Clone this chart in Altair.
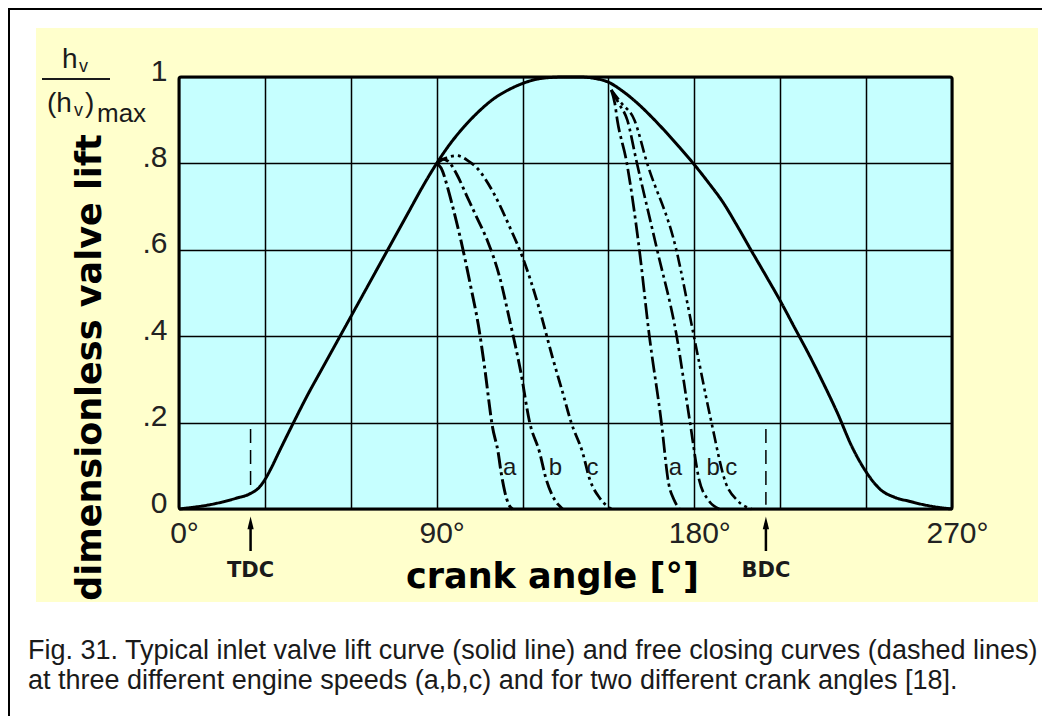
import altair as alt
import pandas as pd

# ---------------- data ----------------
main_angle = [0, 5, 10, 15, 20, 25, 28, 30, 32, 35, 40, 45, 50, 55, 60, 65, 70, 75, 80, 85,
              90, 95, 100, 105, 110, 115, 120, 125, 130, 135, 140, 145, 150, 155, 160, 165,
              170, 175, 180, 185, 190, 195, 200, 205, 210, 215, 220, 225, 230, 235, 240, 245,
              250, 255, 260, 265, 270]
main_lift = [0.0, 0.004, 0.009, 0.016, 0.025, 0.036, 0.05, 0.068, 0.092, 0.133, 0.2, 0.265,
             0.325, 0.385, 0.445, 0.505, 0.565, 0.625, 0.685, 0.745, 0.80, 0.848, 0.888, 0.922,
             0.95, 0.97, 0.985, 0.995, 0.999, 1.0, 1.0, 0.997, 0.988, 0.967, 0.94, 0.908, 0.873,
             0.836, 0.797, 0.755, 0.71, 0.655, 0.597, 0.54, 0.482, 0.42, 0.358, 0.292, 0.222,
             0.145, 0.086, 0.045, 0.027, 0.018, 0.01, 0.004, 0.0]

# free closing curves, first crank angle (branch at 90 deg)
l_a_angle = [90, 91.5, 94, 95.2, 98.7, 101.8, 104.6, 106.7, 109.5, 111.5, 112.5, 113.8, 115, 116.5]
l_a_lift = [0.80, 0.79, 0.74, 0.71, 0.615, 0.518, 0.424, 0.33, 0.19, 0.13, 0.085, 0.04, 0.013, 0.0]
l_b_angle = [90, 92, 94, 97, 100.5, 104, 107.8, 112, 115.5, 119.3, 122.5, 126, 128.2, 130.5, 132.5, 134]
l_b_lift = [0.80, 0.81, 0.805, 0.775, 0.725, 0.675, 0.62, 0.537, 0.437, 0.32, 0.2, 0.13, 0.07, 0.03, 0.01, 0.0]
l_c_angle = [90, 93, 97, 101, 104, 110, 115.5, 120, 126, 130.5, 134, 137, 141, 143.4, 147, 151]
l_c_lift = [0.80, 0.812, 0.818, 0.806, 0.79, 0.73, 0.653, 0.583, 0.46, 0.35, 0.27, 0.2, 0.13, 0.07, 0.025, 0.0]

# free closing curves, second crank angle (branch near 151 deg)
r_a_angle = [151, 152.2, 153.1, 156.3, 160.8, 164.2, 168.5, 171, 173, 174.8]
r_a_lift = [0.97, 0.94, 0.9, 0.805, 0.6, 0.405, 0.2, 0.06, 0.02, 0.0]
r_b_angle = [151, 153.5, 156.6, 159.8, 167, 173.7, 178.5, 181.7, 185, 188.7]
r_b_lift = [0.97, 0.94, 0.9, 0.805, 0.6, 0.405, 0.2, 0.067, 0.02, 0.0]
r_c_angle = [151, 154.5, 159.1, 163.3, 173.7, 179.7, 185.8, 191, 195, 200]
r_c_lift = [0.97, 0.94, 0.9, 0.805, 0.6, 0.405, 0.206, 0.06, 0.02, 0.0]

curve_labels = ["a", "b", "c", "a", "b", "c"]
curve_label_angle = [115.5, 131.5, 144.4, 173.4, 186.6, 192.9]
curve_label_lift = [0.095, 0.095, 0.095, 0.095, 0.095, 0.095]

dead_centre_names = ["TDC", "BDC"]
dead_centre_angle = [25, 205]
dead_centre_top = [0.185, 0.185]
dead_centre_bottom = [0.035, 0.01]

x_grid = [0, 30, 60, 90, 120, 150, 180, 210, 240, 270]
y_grid = [0, 0.2, 0.4, 0.6, 0.8, 1.0]

caption_1 = "Fig. 31. Typical inlet valve lift curve (solid line) and free closing curves (dashed lines)"
caption_2 = "at three different engine speeds (a,b,c) and for two different crank angles [18]."

# ---------------- tables ----------------
series_list = [
    ("main", main_angle, main_lift),
    ("la", l_a_angle, l_a_lift),
    ("lb", l_b_angle, l_b_lift),
    ("lc", l_c_angle, l_c_lift),
    ("ra", r_a_angle, r_a_lift),
    ("rb", r_b_angle, r_b_lift),
    ("rc", r_c_angle, r_c_lift),
]
rows = []
for name, xs, ys in series_list:
    for i, (a, h) in enumerate(zip(xs, ys)):
        rows.append({"series": name, "angle": a, "lift": h, "i": i})
curves = pd.DataFrame(rows)

labels_df = pd.DataFrame({"t": curve_labels, "angle": curve_label_angle, "lift": curve_label_lift})
dc_df = pd.DataFrame({"name": dead_centre_names, "angle": dead_centre_angle,
                      "top": dead_centre_top, "bottom": dead_centre_bottom})

W, H = 773, 432
YELLOW = "#FFFFCC"
CYAN = "#C6FFFF"
INK = "#1a1a1a"

xscale = alt.Scale(domain=[0, 270], nice=False, zero=False)
yscale = alt.Scale(domain=[0, 1], nice=False, zero=False)

one = alt.Data(values=[{}])


def txt(s, x, y, size, font="Liberation Sans", weight="normal", align="left",
        baseline="alphabetic", color=INK):
    return alt.Chart(one).mark_text(text=s, font=font, fontSize=size, fontWeight=weight,
                                    align=align, baseline=baseline, color=color).encode(
        x=alt.value(x), y=alt.value(y))


# page frame + yellow panel + cyan plot area (pixel layout, not data)
frame = alt.Chart(one).mark_rect(fill="white", stroke="black", strokeWidth=2).encode(
    x=alt.value(-170), x2=alt.value(1000), y=alt.value(-68), y2=alt.value(800))
panel = alt.Chart(one).mark_rect(fill=YELLOW).encode(
    x=alt.value(-143), x2=alt.value(859), y=alt.value(-49), y2=alt.value(525))
plotbg = alt.Chart(one).mark_rect(fill=CYAN, stroke="black", strokeWidth=3, cornerRadius=2).encode(
    x=alt.value(0), x2=alt.value(W), y=alt.value(0), y2=alt.value(H))

xaxis = alt.Axis(values=x_grid, grid=True, ticks=False, domain=False,
                 labelExpr="datum.value % 90 == 0 ? datum.value + '°' : ''",
                 labelFont="Liberation Sans", labelFontSize=30, labelColor="#222",
                 labelPadding=9, labelOffset=5, labelFlush=False, labelOverlap=False,
                 title="crank angle [°]", titleFont="DejaVu Sans", titleFontSize=35,
                 titleFontWeight="bold", titleColor="black", titleX=373, titleY=78,
                 titleAlign="center", titleBaseline="alphabetic", zindex=1)
yaxis = alt.Axis(values=y_grid, grid=True, ticks=False, domain=False,
                 labelExpr="datum.value == 0 ? '0' : (datum.value == 1 ? '1' : replace(format(datum.value, '.1f'), '0.', '.'))",
                 labelFont="Liberation Sans", labelFontSize=30, labelColor="#222",
                 labelPadding=12, labelOffset=-6, labelFlush=False, labelOverlap=False,
                 labelBaseline="middle",
                 title="dimensionless valve lift", titleFont="DejaVu Sans", titleFontSize=35,
                 titleFontWeight="bold", titleColor="black", titleX=-79, titleY=290,
                 titleAngle=270, titleAlign="center", titleBaseline="alphabetic", zindex=1)

dash_domain = ["main", "la", "lb", "lc", "ra", "rb", "rc"]
dash_range = [[1, 0], [16, 4, 3, 4], [14, 4, 3, 4], [12, 4, 3, 4, 3, 4],
              [16, 4, 3, 4], [14, 4, 3, 4], [12, 4, 3, 4, 3, 4]]
width_range = [3, 2.6, 2.6, 2.6, 2.6, 2.6, 2.6]

lines = alt.Chart(curves).mark_line(interpolate="monotone", color="black").encode(
    x=alt.X("angle:Q", scale=xscale, axis=xaxis),
    y=alt.Y("lift:Q", scale=yscale, axis=yaxis),
    detail="series:N",
    order="i:Q",
    strokeDash=alt.StrokeDash("series:N", scale=alt.Scale(domain=dash_domain, range=dash_range), legend=None),
    strokeWidth=alt.StrokeWidth("series:N", scale=alt.Scale(domain=dash_domain, range=width_range), legend=None),
)

curve_text = alt.Chart(labels_df).mark_text(font="Liberation Sans", fontSize=24, color=INK,
                                            baseline="middle", align="center").encode(
    x=alt.X("angle:Q", scale=xscale), y=alt.Y("lift:Q", scale=yscale), text="t:N")

dc_dash = alt.Chart(dc_df).mark_rule(color="black", strokeWidth=1.5, strokeDash=[14, 7]).encode(
    x=alt.X("angle:Q", scale=xscale), y=alt.Y("top:Q", scale=yscale), y2="bottom:Q")
dc_shaft = alt.Chart(dc_df).mark_rule(color="black", strokeWidth=2.5).encode(
    x=alt.X("angle:Q", scale=xscale), y=alt.value(446), y2=alt.value(474))
dc_head = alt.Chart(dc_df).mark_point(shape="M0,-1L0.42,0.7L-0.42,0.7Z", filled=True, size=225,
                                      color="black", opacity=1).encode(
    x=alt.X("angle:Q", scale=xscale), y=alt.value(447))
dc_text = alt.Chart(dc_df).mark_text(font="DejaVu Sans", fontWeight="bold", fontSize=21,
                                     color=INK, baseline="middle", align="center").encode(
    x=alt.X("angle:Q", scale=xscale), y=alt.value(494), text="name:N")

# ordinate symbol h_v / (h_v)_max  (page x/y minus plot origin 179/77)
frac = [
    txt("h", -117, -9, 28),
    txt("v", -100, -5, 18),
    alt.Chart(one).mark_rule(color=INK, strokeWidth=2.2).encode(
        x=alt.value(-137), x2=alt.value(-69), y=alt.value(2)),
    txt("(h", -132, 35, 28),
    txt("v", -105, 39, 18),
    txt(")", -94, 35, 28),
    txt("max", -82, 45, 26),
]

caption = [
    txt(caption_1, -151, 582, 27),
    txt(caption_2, -151, 612, 27),
]

chart = alt.layer(
    frame, panel, plotbg, lines, curve_text, dc_dash, dc_shaft, dc_head, dc_text,
    *frac, *caption
).properties(
    width=W, height=H,
    autosize=alt.AutoSizeParams(type="none"),
    padding={"left": 171, "top": 69, "right": 90, "bottom": 207},
    background="white",
).configure_view(stroke=None).configure_axis(
    gridColor="black", gridWidth=1.5, gridOpacity=1
)

chart.save("out.html", embed_options={"renderer": "svg", "actions": False})
